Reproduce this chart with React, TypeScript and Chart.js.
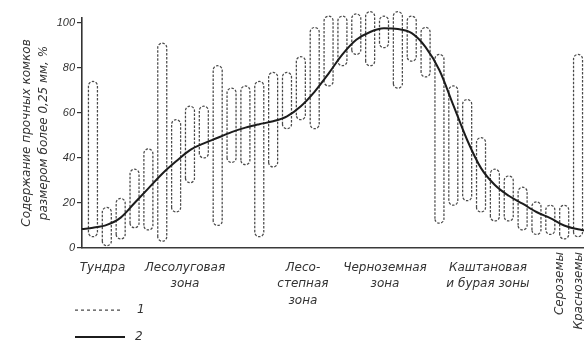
import React, { useEffect, useRef } from "react";
import { Chart, registerables } from "chart.js";

Chart.register(...registerables);

// Sample positions along the transect (bar index)
const barIndex = [1, 2, 3, 4, 5, 6, 7, 8, 9, 10, 11, 12, 13, 14, 15, 16, 17, 18, 19, 20, 21, 22, 23, 24, 25, 26, 27, 28, 29, 30, 31, 32, 33, 34, 35, 36];
// Series 1: range (min / max) of water-stable aggregates > 0.25 mm, %
const barLow = [5, 1, 4, 9, 8, 3, 16, 29, 40, 10, 38, 37, 5, 36, 53, 57, 53, 72, 81, 86, 81, 89, 71, 83, 76, 11, 19, 21, 16, 12, 12, 8, 6, 6, 4, 5];
const barHigh = [74, 18, 22, 35, 44, 91, 57, 63, 63, 81, 71, 72, 74, 78, 78, 85, 98, 103, 103, 104, 105, 103, 105, 103, 98, 86, 72, 66, 49, 35, 32, 27, 20.5, 19, 19, 86];
// Series 2: smoothed mean curve
const curveX = [0.21, 1, 2, 3, 4, 5, 6, 7, 8, 9, 10, 11, 12, 13, 14, 15, 16, 17, 18, 19, 20, 21, 22, 23, 24, 25, 26, 27, 28, 29, 30, 31, 32, 33, 34, 35, 36, 36.43];
const curveY = [8.4, 9, 10.3, 13.5, 20, 26.5, 33, 38.5, 43.5, 46.5, 49, 51.5, 53.5, 55, 56.3, 58.5, 63, 69.5, 77.5, 86, 92.5, 96, 97.6, 97.3, 95.5, 89.3, 79, 63.5, 48, 35.5, 28, 23.2, 19.7, 16, 13.3, 10, 8.3, 7.8];

const yTicks = [0, 20, 40, 60, 80, 100];
const zoneLabels = [["Тундра"], ["Лесолуговая", "зона"], ["Лесо-", "степная", "зона"], ["Черноземная", "зона"], ["Каштановая", "и бурая зоны"]];
const zonePos = [1.69, 7.64, 16.15, 22.07, 29.5];
const verticalLabels = ["Сероземы", "Красноземы"];
const verticalPos = [34.7, 36.07];
const legendLabels = ["1", "2"];
const yTitle = ["Содержание прочных комков", "размером более 0,25 мм, %"];

const FONT = "'DejaVu Sans', sans-serif";
const TEXT = "#333";

const decorPlugin = {
  id: "decor",
  beforeDatasetsDraw(chart: any) {
    const meta = chart.getDatasetMeta(1);
    const ctx = chart.ctx;
    ctx.save();
    ctx.strokeStyle = "#4a4a4a";
    ctx.lineWidth = 1.25;
    ctx.setLineDash([2.5, 1.5]);
    meta.data.forEach((el: any) => {
      const p = el.getProps(["x", "y", "base", "width"], true);
      const top = Math.min(p.y, p.base);
      const bottom = Math.max(p.y, p.base);
      const r = p.width / 2;
      const l = p.x - r;
      const rt = p.x + r;
      ctx.beginPath();
      ctx.moveTo(l, bottom - r);
      ctx.lineTo(l, top + r);
      ctx.arc(p.x, top + r, r, Math.PI, 0);
      ctx.lineTo(rt, bottom - r);
      ctx.arc(p.x, bottom - r, r, 0, Math.PI);
      ctx.closePath();
      ctx.stroke();
    });
    ctx.restore();
  },
  afterDraw(chart: any) {
    const ctx = chart.ctx;
    const xs = chart.scales.x;
    ctx.save();
    ctx.fillStyle = TEXT;
    ctx.font = `italic 12px ${FONT}`;
    verticalLabels.forEach((t, i) => {
      const px = xs.getPixelForValue(verticalPos[i]);
      ctx.save();
      ctx.translate(px, 252);
      ctx.rotate(-Math.PI / 2);
      ctx.textAlign = "right";
      ctx.textBaseline = "middle";
      ctx.fillText(t, 0, 0);
      ctx.restore();
    });
    // legend
    ctx.strokeStyle = "#4a4a4a";
    ctx.lineWidth = 1.25;
    ctx.setLineDash([3, 3]);
    ctx.beginPath();
    ctx.moveTo(75, 310);
    ctx.lineTo(123, 310);
    ctx.stroke();
    ctx.setLineDash([]);
    ctx.strokeStyle = "#1c1c1c";
    ctx.lineWidth = 2;
    ctx.beginPath();
    ctx.moveTo(75, 337);
    ctx.lineTo(125, 337);
    ctx.stroke();
    ctx.textAlign = "left";
    ctx.textBaseline = "middle";
    ctx.font = `italic 12px ${FONT}`;
    ctx.fillText(legendLabels[0], 137, 310);
    ctx.fillText(legendLabels[1], 135, 337);
    ctx.restore();
  },
};

export default function App() {
  const ref = useRef<HTMLCanvasElement>(null);
  useEffect(() => {
    if (!ref.current) return;
    const chart = new Chart(ref.current, {
      type: "bar",
      data: {
        datasets: [
          {
            type: "line",
            label: "2",
            data: curveX.map((x, i) => ({ x, y: curveY[i] })),
            borderColor: "#1c1c1c",
            borderWidth: 2,
            pointRadius: 0,
            tension: 0.4,
            cubicInterpolationMode: "monotone",
            fill: false,
          } as any,
          {
            type: "bar",
            label: "1",
            data: barIndex.map((x, i) => ({ x, y: [barLow[i], barHigh[i]] })),
            backgroundColor: "rgba(0,0,0,0)",
            borderWidth: 0,
            barThickness: 9,
            clip: false,
          } as any,
        ],
      },
      options: {
        animation: false,
        responsive: true,
        maintainAspectRatio: false,
        layout: { padding: { top: 18, right: 0, left: 0, bottom: 0 } },
        plugins: { legend: { display: false }, tooltip: { enabled: false } },
        scales: {
          x: {
            type: "linear",
            offset: false,
            min: 0.21,
            max: 36.43,
            grid: { display: false, offset: false },
            border: { display: true, color: "#3a3a3a", width: 1.6 },
            afterBuildTicks: (s: any) => {
              s.ticks = zonePos.map((v) => ({ value: v }));
            },
            afterFit: (s: any) => {
              s.height = 95;
            },
            ticks: {
              autoSkip: false,
              maxRotation: 0,
              minRotation: 0,
              padding: 4,
              color: TEXT,
              font: { family: FONT, size: 12, style: "italic", lineHeight: 1.35 },
              callback: (_v: any, i: number) => zoneLabels[i],
            },
          },
          y: {
            type: "linear",
            min: 0,
            max: 102.2,
            afterBuildTicks: (s: any) => {
              s.ticks = yTicks.map((v) => ({ value: v }));
            },
            afterFit: (s: any) => {
              s.width = 82;
            },
            grid: { display: true, drawOnChartArea: false, drawTicks: true, tickLength: 5, color: "#333", lineWidth: 1.2 },
            border: { display: true, color: "#333", width: 1.6 },
            ticks: {
              padding: 2,
              color: TEXT,
              font: { family: "'Liberation Sans', sans-serif", size: 11, style: "italic" },
            },
            title: {
              display: true,
              text: yTitle,
              color: TEXT,
              font: { family: FONT, size: 12, style: "italic", lineHeight: 1.42 },
              padding: { top: 18, bottom: 0 },
            },
          },
        },
      } as any,
      plugins: [decorPlugin],
    });
    return () => chart.destroy();
  }, []);
  return (
    <div style={{ position: "fixed", left: 0, top: 0, width: 584, height: 343, background: "#fff" }}>
      <canvas ref={ref} />
    </div>
  );
}
